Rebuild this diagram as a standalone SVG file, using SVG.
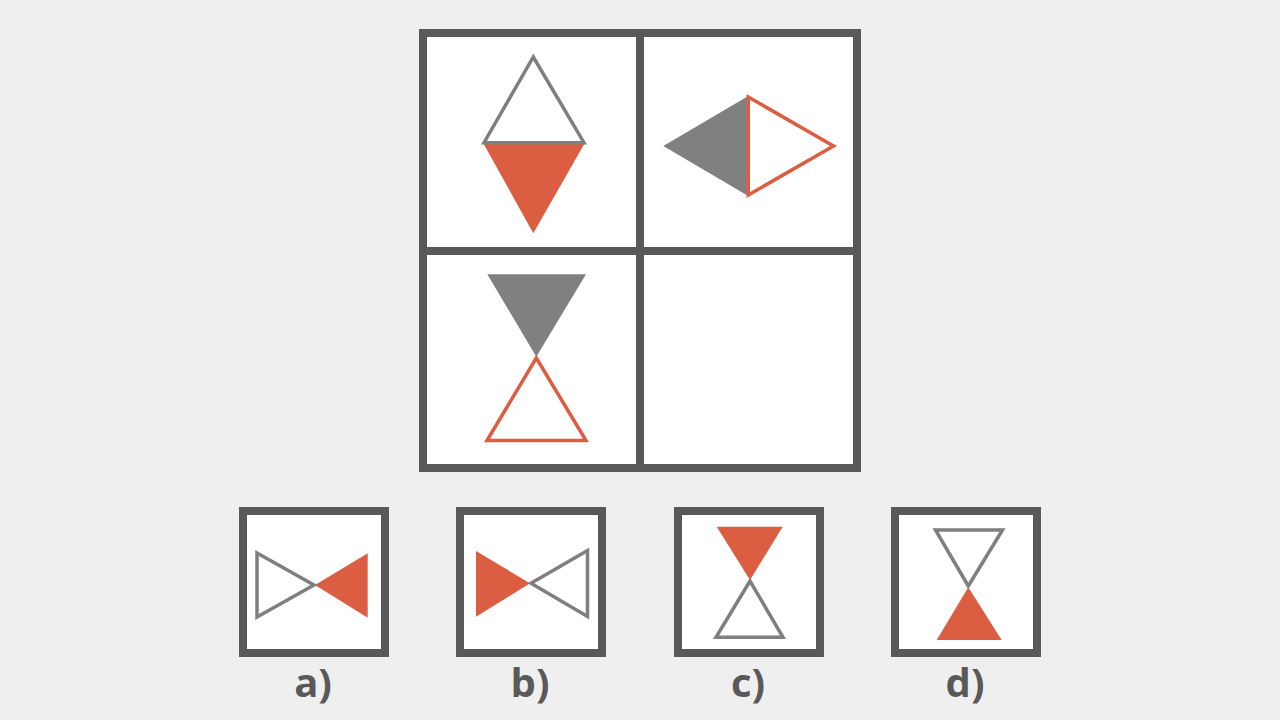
<svg xmlns="http://www.w3.org/2000/svg" width="1280" height="720" viewBox="0 0 1280 720">
<style>
.frame{fill:#ffffff;stroke:#595959;stroke-width:8}
.div{stroke:#595959;stroke-width:8}
.go{fill:none;stroke:#7f7f7f;stroke-width:3.5;stroke-linejoin:miter}
.ro{fill:none;stroke:#dc5e42;stroke-width:3.5;stroke-linejoin:miter}
.gf{fill:#808080}
.rf{fill:#dc5e42}
.lbl{font-family:"Open Sans","Liberation Sans",sans-serif;font-weight:bold;font-size:40px;fill:#595959;text-anchor:middle}
</style>
<rect x="0" y="0" width="1280" height="720" fill="#efefef"/>
<g id="grid">
<rect class="frame" x="423" y="33" width="434" height="435"/>
<line class="div" x1="640" y1="33" x2="640" y2="468"/>
<line class="div" x1="423" y1="251" x2="857" y2="251"/>
</g>
<g id="cell1">
<polygon class="rf" points="483,142.7 585,142.7 533.3,233.3"/>
<polygon class="go" points="533.3,57 584,142.7 484,142.7"/>
</g>
<g id="cell2">
<polygon class="gf" points="663.3,146 748.3,96 748.3,196"/>
<polygon class="ro" points="748.3,97 833.5,146 748.3,195"/>
</g>
<g id="cell3">
<polygon class="gf" points="487.3,274.3 586,274.3 536.3,356.7"/>
<polygon class="ro" points="536.3,358 586,440.5 487,440.5"/>
</g>
<g id="optA">
<rect class="frame" x="243" y="511" width="142" height="142"/>
<polygon class="rf" points="315,585 367.7,553.3 367.7,617.7"/>
<polygon class="go" points="257,553 314,585 257,617"/>
<text class="lbl" x="313" y="697">a)</text>
</g>
<g id="optB">
<rect class="frame" x="460" y="511" width="142" height="142"/>
<polygon class="rf" points="476,551 530,583.3 476,616.7"/>
<polygon class="go" points="531,583.3 587.5,550.5 587.5,616.5"/>
<text class="lbl" x="530" y="697">b)</text>
</g>
<g id="optC">
<rect class="frame" x="678" y="511" width="142" height="142"/>
<polygon class="rf" points="716.7,526.7 782.7,526.7 750,580"/>
<polygon class="go" points="750,581 783,637.3 716,637.3"/>
<text class="lbl" x="748" y="697">c)</text>
</g>
<g id="optD">
<rect class="frame" x="895" y="511" width="142" height="142"/>
<polygon class="rf" points="968.3,587.3 1001.7,640 936.7,640"/>
<polygon class="go" points="935.5,530 1002.5,530 968.3,586"/>
<text class="lbl" x="965" y="697">d)</text>
</g>
</svg>
